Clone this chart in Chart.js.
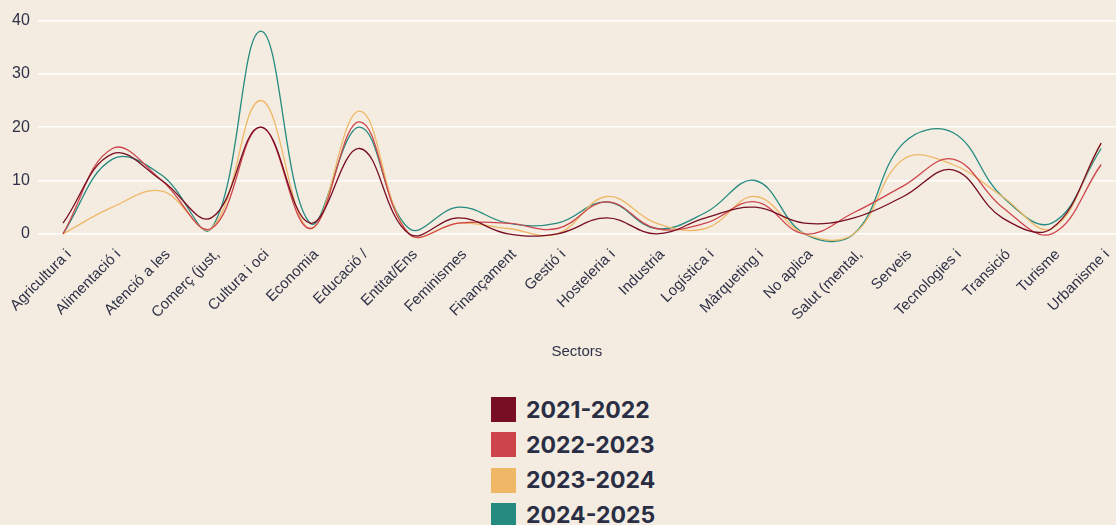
<!DOCTYPE html>
<html>
<head>
<meta charset="utf-8">
<title>Sectors per temporada</title>
<script src="https://cdn.jsdelivr.net/npm/chart.js@4.4.1/dist/chart.umd.min.js"></script>
<style>
  html, body { margin: 0; padding: 0; background: #f4ece0; width: 1116px; height: 525px; overflow: hidden; }
  #wrap { position: relative; width: 1116px; height: 361px; }
  #legend { list-style: none; margin: 0; padding: 0; position: absolute; left: 491px; top: 397px; }
  #legend li { display: flex; align-items: center; height: 25px; margin-bottom: 10.3px;
               font: 700 23px Inter, "Liberation Sans", sans-serif; color: #2a2e45; }
  #legend .box { width: 25px; height: 25px; margin-right: 10px; }
</style>
</head>
<body>
<div id="wrap"><canvas id="grafic" width="1116" height="361"></canvas></div>
<ul id="legend"></ul>
<script>
// Dades
const sectors = [
  'Agricultura i', 'Alimentació i', 'Atenció a les', 'Comerç (just,', 'Cultura i oci',
  'Economia', 'Educació /', 'Entitat/Ens', 'Feminismes', 'Finançament', 'Gestió i',
  'Hosteleria i', 'Industria', 'Logística i', 'Màrqueting i', 'No aplica',
  'Salut (mental,', 'Serveis', 'Tecnologies i', 'Transició', 'Turisme', 'Urbanisme i'
];
const temporades = ['2021-2022', '2022-2023', '2023-2024', '2024-2025'];
const colors = ['#770e23', '#cd444b', '#efb766', '#258a80'];

const t2122 = [2, 15, 10, 3, 20, 2, 16, 0, 3, 0, 0, 3, 0, 3, 5, 2, 3, 7, 12, 3, 1, 17];
const t2223 = [0, 16, 10, 1, 20, 1, 21, 0, 2, 2, 1, 6, 1, 2, 6, 0, 4, 9, 14, 5, 0, 13];
const t2324 = [0, 5, 8, 1, 25, 1, 23, 0, 2, 1, 0, 7, 2, 1, 7, 0, 0, 14, 13, 7, 1, 17];
const t2425 = [0, 14, 11, 1, 38, 2, 20, 1, 5, 2, 2, 6, 1, 4, 10, 0, 0, 17, 19, 7, 2, 16];

const yTicks = [0, 10, 20, 30, 40];

const textColor = '#2e3148';
const fontFamily = '"Liberation Sans", Arial, sans-serif';
const series = [t2122, t2223, t2324, t2425];

const datasets = series.map((vals, i) => ({
  label: temporades[i],
  data: vals.map((v, j) => ({ x: j, y: v })),
  borderColor: colors[i],
  backgroundColor: colors[i],
  borderWidth: 1.3,
  pointRadius: 0,
  tension: 0.4,
  capBezierPoints: false,
  clip: false
}));

const chart = new Chart(document.getElementById('grafic'), {
  type: 'line',
  data: { datasets },
  options: {
    responsive: false,
    animation: false,
    layout: { padding: { left: 4, top: 20.5, right: 0, bottom: 0 } },
    plugins: {
      legend: { display: false },
      tooltip: { enabled: false }
    },
    scales: {
      x: {
        type: 'linear',
        min: -0.51,
        max: 21.3,
        grid: { display: false },
        border: { display: false },
        // les etiquetes girades no han d'empènyer l'àrea del gràfic
        afterFit: scale => { scale.paddingLeft = 0; scale.paddingRight = 0; },
        title: {
          display: true,
          text: 'Sectors',
          color: textColor,
          font: { family: fontFamily, size: 15 },
          padding: { top: 15, bottom: 0 }
        },
        ticks: {
          stepSize: 1,
          includeBounds: false,
          autoSkip: false,
          minRotation: 45,
          maxRotation: 45,
          padding: 4,
          labelOffset: 6,
          color: textColor,
          font: { family: fontFamily, size: 15 },
          callback: v => sectors[v] ?? ''
        }
      },
      y: {
        min: yTicks[0],
        max: yTicks[yTicks.length - 1],
        border: { display: false },
        grid: { color: '#ffffff', lineWidth: 1.5, drawTicks: false },
        ticks: {
          stepSize: 10,
          padding: 8,
          color: textColor,
          font: { family: fontFamily, size: 16 }
        }
      }
    }
  }
});

// Llegenda en HTML (vertical, sota el gràfic)
const legend = document.getElementById('legend');
chart.data.datasets.forEach(ds => {
  const li = document.createElement('li');
  const box = document.createElement('span');
  box.className = 'box';
  box.style.background = ds.borderColor;
  li.appendChild(box);
  li.appendChild(document.createTextNode(ds.label));
  legend.appendChild(li);
});
</script>
</body>
</html>
